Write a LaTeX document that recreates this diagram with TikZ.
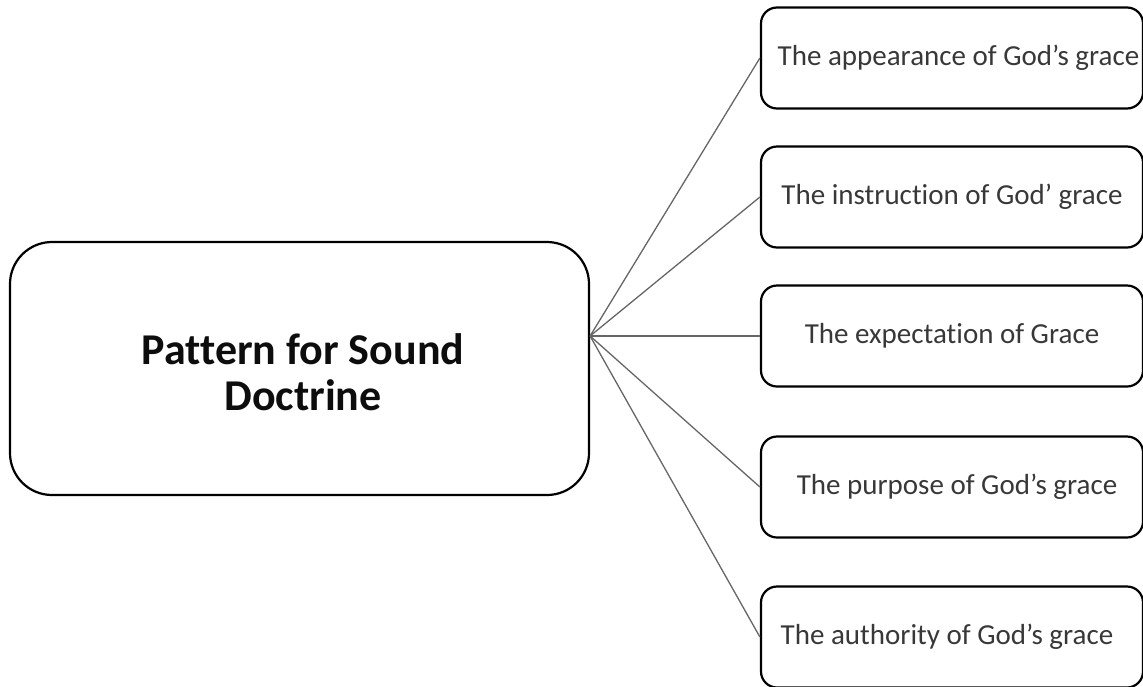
\documentclass[tikz,border=0pt]{standalone}
\usepackage{fontspec}
\setmainfont{Carlito}[Ligatures=NoCommon]
\begin{document}
\begin{tikzpicture}[x=1pt,y=-1pt,
  mbox/.style={draw, line width=2.2pt, rounded corners=42pt, minimum width=579pt, minimum height=253pt, align=center, text=black!95, font=\fontsize{44}{46}\selectfont\bfseries},
  gbox/.style={draw, line width=2.2pt, rounded corners=16pt, minimum width=382pt, minimum height=101pt, inner sep=0pt, text=black!78, font=\fontsize{29}{32}\selectfont},
  spoke/.style={draw=black!60, line width=1.3pt}]
\useasboundingbox (0,0) rectangle (1143,686);

\node [mbox] (n0) at (299.5,368.5) {};
\node [mbox, draw=none, minimum width=0pt, minimum height=0pt] (t0) at (303,372) {Pattern for Sound\\Doctrine};

\node [gbox] (n1) at (952,58) {\hspace*{13pt}The appearance of God’s grace};

\node [gbox] (n2) at (952,197) {The instruction of God’ grace};

\node [gbox] (n3) at (952,336) {The expectation of Grace};

\node [gbox] (n4) at (952,487) {\hspace*{10pt}The purpose of God’s grace};

\node [gbox] (n5) at (952,637) {The authority of God’s grace\hspace*{10pt}};

\coordinate (hub) at (n0.east |- n3.west);

\draw [spoke] (hub) -- (n1.west);
\draw [spoke] (hub) -- (n2.west);
\draw [spoke] (hub) -- (n3.west);
\draw [spoke] (hub) -- (n4.west);
\draw [spoke] (hub) -- (n5.west);

\end{tikzpicture}
\end{document}
